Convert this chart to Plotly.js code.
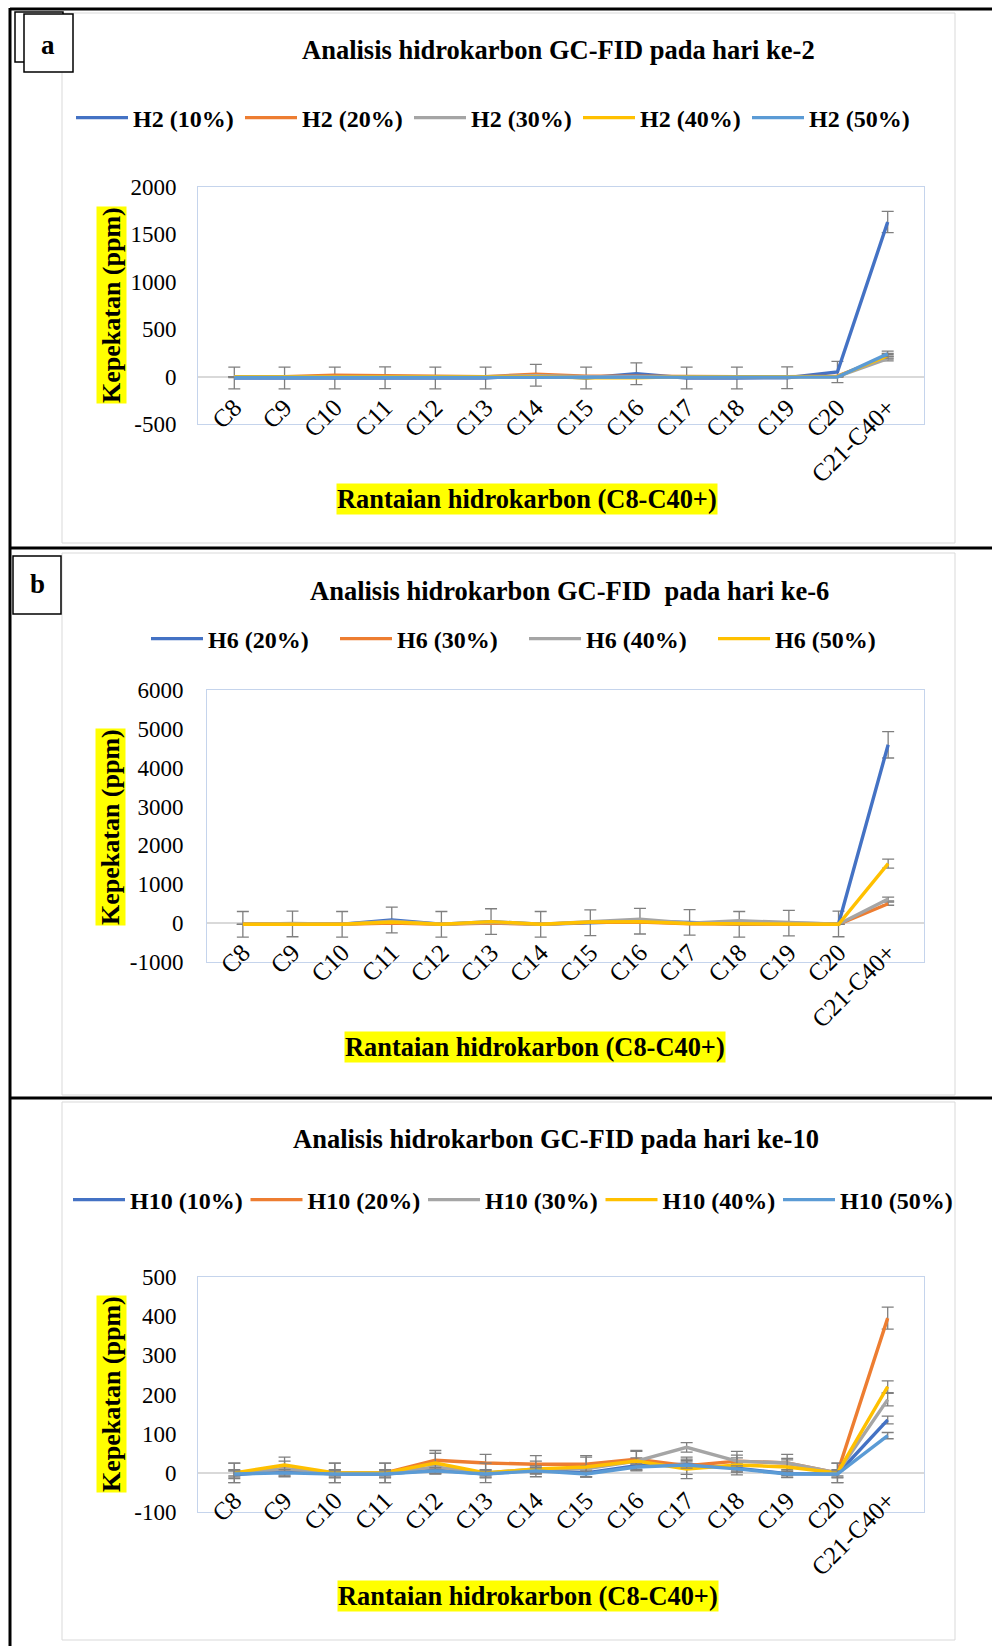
<!DOCTYPE html>
<html>
<head>
<meta charset="utf-8">
<script src="https://cdn.plot.ly/plotly-3.0.1.min.js"></script>
<style>
html,body{margin:0;padding:0;background:#fff;}
#chart{width:992px;height:1646px;}
</style>
</head>
<body>
<div id="chart"></div>
<script>
// ---------------- DATA ----------------
const categories = ['C8','C9','C10','C11','C12','C13','C14','C15','C16','C17','C18','C19','C20','C21-C40+'];

// y tick labels (hyphen minus as in the original)
const yTicksA = [-500,0,500,1000,1500,2000];
const yTickTextA = ['-500','0','500','1000','1500','2000'];
const yTicksB = [-1000,0,1000,2000,3000,4000,5000,6000];
const yTickTextB = ['-1000','0','1000','2000','3000','4000','5000','6000'];
const yTicksC = [-100,0,100,200,300,400,500];
const yTickTextC = ['-100','0','100','200','300','400','500'];

// Panel a : day 2
const namesA = ['H2 (10%)','H2 (20%)','H2 (30%)','H2 (40%)','H2 (50%)'];
const h2_10 = [-15,-15,-15,-12,-15,-15,15,-15,30,-15,-15,-12,48,1630];
const h2_20 = [0,0,15,10,0,0,25,5,5,0,0,0,5,210];
const h2_30 = [0,0,5,0,0,0,10,0,0,0,0,0,0,190];
const h2_40 = [0,0,0,0,0,0,0,-12,-12,0,0,0,0,220];
const h2_50 = [-10,-10,-10,-10,-10,-10,-5,-5,-5,-10,-10,-5,-5,240];
const h2_10_err = [115,115,115,115,115,115,115,115,115,115,115,115,112,112];
const h2_20_err = [null,null,null,null,null,null,null,null,null,null,null,null,null,25];
const h2_30_err = [null,null,null,null,null,null,null,null,null,null,null,null,null,25];
const h2_40_err = [null,null,null,null,null,null,null,null,null,null,null,null,null,25];
const h2_50_err = [null,null,null,null,null,null,null,null,null,null,null,null,null,28];

// Panel b : day 6
const namesB = ['H6 (20%)','H6 (30%)','H6 (40%)','H6 (50%)'];
const h6_20 = [-30,-20,-30,80,-30,40,-30,10,50,20,-30,0,-20,4590];
const h6_30 = [-30,-30,-30,0,-30,0,-30,20,30,-20,-30,-40,-30,500];
const h6_40 = [-30,-10,-30,50,-30,20,-30,40,100,0,60,20,-30,620];
const h6_50 = [-30,-30,-30,30,-30,40,-30,30,40,-10,-20,-20,-30,1530];
const h6_20_err = [330,330,330,330,330,330,330,330,330,330,330,330,330,340];
const h6_30_err = [null,null,null,null,null,null,null,null,null,null,null,null,null,40];
const h6_40_err = [null,null,null,null,null,null,null,null,null,null,null,null,null,50];
const h6_50_err = [null,null,null,null,null,null,null,null,null,null,null,null,null,115];

// Panel c : day 10
const namesC = ['H10 (10%)','H10 (20%)','H10 (30%)','H10 (40%)','H10 (50%)'];
const h10_10 = [-5,5,-3,-3,8,-3,8,0,18,22,12,-2,-3,135];
const h10_20 = [0,10,0,0,32,25,22,22,35,18,30,25,0,395];
const h10_30 = [0,10,0,0,15,0,10,10,30,65,30,25,0,187];
const h10_40 = [0,20,0,0,25,0,10,15,30,10,20,15,0,220];
const h10_50 = [-3,0,-3,-3,5,-3,5,-3,15,20,10,-3,-3,95];
const h10_10_err = [10,10,10,10,10,10,10,10,10,10,10,10,10,10];
const h10_20_err = [25,20,25,25,25,22,22,22,22,22,25,22,25,28];
const h10_30_err = [8,8,8,8,8,8,8,8,8,12,8,8,8,16];
const h10_40_err = [25,20,25,25,25,25,20,25,25,25,25,22,25,15];
const h10_50_err = [8,8,8,8,8,8,8,8,8,8,8,8,8,8];

const colorsA = ['#4472C4','#ED7D31','#A5A5A5','#FFC000','#5B9BD5'];
const colorsB = ['#4472C4','#ED7D31','#A5A5A5','#FFC000'];

// ---------------- HELPERS ----------------
const W = 992, H = 1646;
const px = v => v / W;
const py = v => 1 - v / H;
const SERIF = 'Liberation Serif, Times New Roman, serif';

function mk(name, y, err, color, xa, ya, leg) {
  const t = {
    type: 'scatter', mode: 'lines', name: name,
    x: categories, y: y,
    xaxis: xa, yaxis: ya, legend: leg,
    line: {color: color, width: 3.4},
    hoverinfo: 'skip'
  };
  if (err) {
    t.error_y = {type: 'data', array: err, visible: true, color: '#7f7f7f', thickness: 1.3, width: 6};
  }
  return t;
}

const data = [];
const sA = [h2_10,h2_20,h2_30,h2_40,h2_50], eA = [h2_10_err,h2_20_err,h2_30_err,h2_40_err,h2_50_err];
for (let i = 0; i < 5; i++) data.push(mk(namesA[i], sA[i], eA[i], colorsA[i], 'x', 'y', 'legend'));
const sB = [h6_20,h6_30,h6_40,h6_50], eB = [h6_20_err,h6_30_err,h6_40_err,h6_50_err];
for (let i = 0; i < 4; i++) data.push(mk(namesB[i], sB[i], eB[i], colorsB[i], 'x2', 'y2', 'legend2'));
const sC = [h10_10,h10_20,h10_30,h10_40,h10_50], eC = [h10_10_err,h10_20_err,h10_30_err,h10_40_err,h10_50_err];
for (let i = 0; i < 5; i++) data.push(mk(namesC[i], sC[i], eC[i], colorsA[i], 'x3', 'y3', 'legend3'));

function xAxis(dom, anchor, standoff) {
  return {
    domain: dom, anchor: anchor, type: 'category',
    showgrid: false, zeroline: false,
    showline: true, mirror: true, linecolor: '#c5d4ec', linewidth: 1,
    ticks: '', tickangle: -45,
    tickfont: {family: SERIF, size: 25, color: '#000'},
    ticklabelstandoff: standoff,
    fixedrange: true
  };
}
function yAxis(dom, anchor, range, vals, texts, standoff) {
  return {
    domain: dom, anchor: anchor, range: range,
    tickmode: 'array', tickvals: vals, ticktext: texts,
    showgrid: false,
    zeroline: true, zerolinecolor: '#d9d9d9', zerolinewidth: 2,
    showline: true, mirror: true, linecolor: '#c5d4ec', linewidth: 1,
    ticks: '',
    tickfont: {family: SERIF, size: 23, color: '#000'},
    ticklabelstandoff: standoff,
    fixedrange: true
  };
}
function legend(xStart, yMid, entry) {
  return {
    orientation: 'h', x: px(xStart), y: py(yMid), xanchor: 'left', yanchor: 'middle',
    bgcolor: 'rgba(0,0,0,0)', borderwidth: 0,
    font: {family: SERIF, size: 24, color: '#000', weight: 'bold'},
    itemwidth: 52, entrywidth: entry, entrywidthmode: 'pixels',
    itemclick: false, itemdoubleclick: false, traceorder: 'normal'
  };
}

function ann(text, x, y, size, extra) {
  return Object.assign({
    text: text, x: px(x), y: py(y), xref: 'paper', yref: 'paper',
    showarrow: false, xanchor: 'center', yanchor: 'middle',
    font: {family: SERIF, size: size, color: '#000', weight: 'bold'}
  }, extra || {});
}

const annotations = [
  ann('Analisis hidrokarbon GC-FID pada hari ke-2', 558, 50, 26.5),
  ann('Analisis hidrokarbon GC-FID  pada hari ke-6', 569, 591, 26.5),
  ann('Analisis hidrokarbon GC-FID pada hari ke-10', 556, 1139, 26.5),
  ann('Kepekatan (ppm)', 111, 305, 26, {textangle: -90, bgcolor: '#ffff00', borderpad: 0}),
  ann('Kepekatan (ppm)', 111, 827, 26, {textangle: -90, bgcolor: '#ffff00', borderpad: 0}),
  ann('Kepekatan (ppm)', 111, 1394, 26, {textangle: -90, bgcolor: '#ffff00', borderpad: 0}),
  ann('Rantaian hidrokarbon (C8-C40+)', 527, 499, 26.4, {bgcolor: '#ffff00', borderpad: 0}),
  ann('Rantaian hidrokarbon (C8-C40+)', 535, 1047, 26.4, {bgcolor: '#ffff00', borderpad: 0}),
  ann('Rantaian hidrokarbon (C8-C40+)', 528, 1596, 26.4, {bgcolor: '#ffff00', borderpad: 0}),
  ann('a', 48, 45, 27),
  ann('b', 37, 584, 27)
];

function rect(x0, y0, x1, y1, color, width, fill) {
  return {type: 'rect', xref: 'paper', yref: 'paper', x0: px(x0), x1: px(x1), y0: py(y0), y1: py(y1),
    line: {color: color, width: width}, fillcolor: fill || 'rgba(0,0,0,0)', layer: 'below'};
}
function line(x0, y0, x1, y1, color, width) {
  return {type: 'line', xref: 'paper', yref: 'paper', x0: px(x0), x1: px(x1), y0: py(y0), y1: py(y1),
    line: {color: color, width: width}, layer: 'above'};
}

const shapes = [
  rect(62, 13, 955, 543, '#d9d9d9', 1),
  rect(62, 553, 955, 1095, '#d9d9d9', 1),
  rect(62, 1102, 955, 1640, '#d9d9d9', 1),
  line(10, 9, 992, 9, '#000', 3),
  line(10, 8, 10, 1646, '#000', 3),
  line(10, 548, 992, 548, '#000', 3),
  line(10, 1098, 992, 1098, '#000', 3),
  Object.assign(rect(15, 12, 63, 62, '#000', 1.5, '#fff'), {layer: 'above'}),
  Object.assign(rect(24, 14, 73, 72, '#000', 1.5, '#fff'), {layer: 'above'}),
  Object.assign(rect(13, 556, 61, 614, '#000', 1.5, '#fff'), {layer: 'above'})
];

const layout = {
  width: W, height: H,
  margin: {l: 0, r: 0, t: 0, b: 0},
  paper_bgcolor: '#fff', plot_bgcolor: 'rgba(0,0,0,0)',
  showlegend: true,
  xaxis: xAxis([px(198), px(924)], 'y', -42),
  yaxis: yAxis([py(424), py(187)], 'x', [-500, 2000], yTicksA, yTickTextA, 16),
  xaxis2: xAxis([px(207), px(924)], 'y2', -35),
  yaxis2: yAxis([py(962), py(690)], 'x2', [-1000, 6000], yTicksB, yTickTextB, 18),
  xaxis3: xAxis([px(198), px(924)], 'y3', -37),
  yaxis3: yAxis([py(1512), py(1277)], 'x3', [-100, 500], yTicksC, yTickTextC, 16),
  legend: legend(71, 118, 102),
  legend2: legend(146, 639, 122),
  legend3: legend(68, 1200, 110.5),
  annotations: annotations,
  shapes: shapes
};

Plotly.newPlot('chart', data, layout, {staticPlot: true, displayModeBar: false});
</script>
</body>
</html>
